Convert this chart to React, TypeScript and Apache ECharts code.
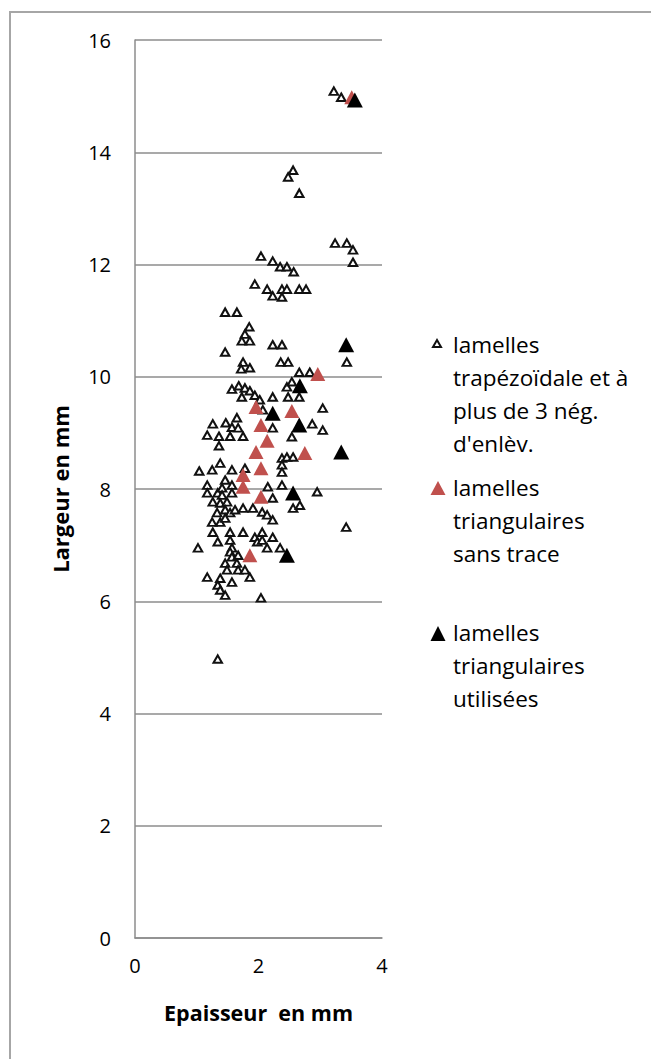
import React, { useEffect, useRef } from "react";
import * as echarts from "echarts";

// Epaisseur (mm), Largeur (mm)
const trapezoidalePts: [number, number][] = [
  [3.22, 15.09], [3.34, 14.98],
  [2.48, 13.56], [2.56, 13.68], [2.66, 13.27],
  [3.24, 12.38], [3.43, 12.38], [3.53, 12.26], [3.53, 12.04],
  [2.04, 12.15], [2.23, 12.06], [2.35, 11.96], [2.46, 11.96], [2.57, 11.87],
  [1.94, 11.65], [2.14, 11.56], [2.23, 11.44], [2.38, 11.56], [2.38, 11.42], [2.46, 11.56], [2.66, 11.56], [2.77, 11.56],
  [1.46, 11.15], [1.65, 11.15],
  [1.85, 10.89], [1.78, 10.76], [1.73, 10.64], [1.86, 10.64],
  [2.23, 10.57], [2.38, 10.57],
  [1.46, 10.44],
  [3.43, 10.26],
  [1.75, 10.26], [1.72, 10.14], [1.86, 10.16],
  [2.36, 10.26], [2.48, 10.26],
  [2.66, 10.08], [2.83, 10.08],
  [1.57, 9.78], [1.68, 9.84], [1.78, 9.8], [1.86, 9.75], [1.94, 9.67], [1.73, 9.64], [2.02, 9.59],
  [2.23, 9.64],
  [2.46, 9.82], [2.54, 9.91], [2.48, 9.64], [2.66, 9.64],
  [3.04, 9.44],
  [2.07, 9.41],
  [1.65, 9.27], [1.47, 9.18], [1.26, 9.16], [1.57, 9.1], [1.67, 9.09],
  [1.17, 8.96], [1.36, 8.94], [1.54, 8.94], [1.75, 8.94],
  [1.36, 8.77],
  [2.23, 9.09], [2.87, 9.16], [3.04, 9.05], [2.54, 8.93],
  [2.38, 8.55], [2.46, 8.57], [2.56, 8.57], [2.38, 8.43], [2.38, 8.3],
  [1.04, 8.32], [1.25, 8.34], [1.38, 8.46], [1.57, 8.34], [1.78, 8.37],
  [1.46, 8.16],
  [1.17, 8.07], [1.17, 7.93], [1.34, 7.93], [1.41, 8.02], [1.41, 7.89], [1.57, 8.07], [1.57, 7.93],
  [2.15, 8.04], [2.38, 8.07], [2.95, 7.95], [2.23, 7.84],
  [2.56, 7.66], [2.67, 7.71],
  [1.26, 7.77], [1.38, 7.75], [1.49, 7.77], [1.46, 7.63], [1.33, 7.58], [1.54, 7.58], [1.62, 7.63],
  [1.75, 7.66], [1.91, 7.66], [2.06, 7.59], [2.14, 7.54], [2.23, 7.45],
  [1.25, 7.41], [1.38, 7.41], [1.46, 7.48],
  [3.42, 7.32],
  [1.26, 7.23], [1.54, 7.23], [1.75, 7.23], [2.06, 7.23], [1.94, 7.14], [2.23, 7.14],
  [1.34, 7.06], [1.54, 7.09], [1.57, 6.95], [1.98, 7.06], [2.06, 7.09], [2.14, 6.95], [2.35, 6.95],
  [1.02, 6.95],
  [1.54, 6.88], [1.57, 6.79], [1.67, 6.82],
  [1.46, 6.68], [1.65, 6.68], [1.49, 6.56], [1.67, 6.56], [1.78, 6.56],
  [1.17, 6.43], [1.38, 6.41], [1.57, 6.34], [1.86, 6.43],
  [1.34, 6.29], [1.38, 6.2], [1.46, 6.11],
  [2.04, 6.06],
  [1.34, 4.97],
];

const sansTracePts: [number, number][] = [
  [3.51, 14.98],
  [2.96, 10.05],
  [1.96, 9.46],
  [2.54, 9.39],
  [2.04, 9.14],
  [2.14, 8.86],
  [1.96, 8.66],
  [2.75, 8.64],
  [2.04, 8.37],
  [1.75, 8.25],
  [1.75, 8.04],
  [2.04, 7.86],
  [1.86, 6.82],
];

const utiliseesPts: [number, number][] = [
  [3.56, 14.93],
  [3.42, 10.57],
  [2.67, 9.84],
  [2.23, 9.35],
  [2.66, 9.14],
  [3.34, 8.66],
  [2.56, 7.93],
  [2.46, 6.82],
];

const seriesNames = [
  "lamelles\ntrapézoïdale et à\nplus de 3 nég.\nd'enlèv.",
  "lamelles\ntriangulaires\nsans trace",
  "lamelles\ntriangulaires\nutilisées",
];

const xTicks = { min: 0, max: 4, interval: 2 };
const yTicks = { min: 0, max: 16, interval: 2 };
const xTitle = "Epaisseur  en mm";
const yTitle = "Largeur en mm";

const FONT = "Open Sans";
const RED = "#C0504D";

export default function App() {
  const ref = useRef<HTMLDivElement>(null);
  useEffect(() => {
    if (!ref.current) return;
    const chart = echarts.init(ref.current, undefined, { renderer: "svg" });
    const legendText = (t: string, y: number) => ({
      type: "text",
      left: 453,
      top: y,
      style: {
        text: t,
        font: `22.5px "${FONT}"`,
        fill: "#000",
        lineHeight: 33,
      },
    });
    chart.setOption({
      animation: false,
      backgroundColor: "#fff",
      grid: { left: 135, top: 40, right: 269, bottom: 121 },
      xAxis: {
        type: "value",
        min: xTicks.min,
        max: xTicks.max,
        interval: xTicks.interval,
        splitLine: { show: false },
        axisTick: { show: false },
        axisLine: { show: true, onZero: false, lineStyle: { color: "#8c8c8c", width: 1.5 } },
        axisLabel: { margin: 17, color: "#000", fontFamily: FONT, fontSize: 20 },
        name: xTitle,
        nameLocation: "middle",
        nameGap: 63,
        nameTextStyle: { color: "#000", fontFamily: FONT, fontSize: 21.5, fontWeight: "bold" },
      },
      yAxis: {
        type: "value",
        min: yTicks.min,
        max: yTicks.max,
        interval: yTicks.interval,
        splitLine: { show: true, lineStyle: { color: "#8c8c8c", width: 1.5 } },
        axisTick: { show: false },
        axisLine: { show: true, onZero: false, lineStyle: { color: "#8c8c8c", width: 1.5 } },
        axisLabel: { margin: 24, color: "#000", fontFamily: FONT, fontSize: 20 },
        name: yTitle,
        nameLocation: "middle",
        nameGap: 64,
        nameTextStyle: { color: "#000", fontFamily: FONT, fontSize: 22, fontWeight: "bold" },
      },
      series: [
        {
          name: seriesNames[0],
          type: "scatter",
          data: trapezoidalePts,
          symbol: "triangle",
          symbolSize: [8.5, 7.5],
          itemStyle: { color: "#fff", borderColor: "#111", borderWidth: 2, opacity: 1 },
          z: 2,
        },
        {
          name: seriesNames[1],
          type: "scatter",
          data: sansTracePts,
          symbol: "triangle",
          symbolSize: [15, 14],
          itemStyle: { color: RED, opacity: 1 },
          z: 3,
        },
        {
          name: seriesNames[2],
          type: "scatter",
          data: utiliseesPts,
          symbol: "triangle",
          symbolSize: [16, 15],
          itemStyle: { color: "#000", opacity: 1 },
          z: 4,
        },
      ],
      graphic: [
        {
          type: "rect",
          shape: { x: 10, y: 12, width: 700, height: 1100 },
          style: { fill: "none", stroke: "#a6a6a6", lineWidth: 2 },
          silent: true,
        },
        {
          type: "polygon",
          shape: { points: [[437, 340], [441, 347], [433, 347]] },
          style: { fill: "#fff", stroke: "#111", lineWidth: 2 },
        },
        {
          type: "polygon",
          shape: { points: [[438, 481], [445.5, 495], [430.5, 495]] },
          style: { fill: RED },
        },
        {
          type: "polygon",
          shape: { points: [[438, 626], [445.5, 641], [430.5, 641]] },
          style: { fill: "#000" },
        },
        legendText(seriesNames[0], 328),
        legendText(seriesNames[1], 471),
        legendText(seriesNames[2], 616),
      ],
    });
    return () => chart.dispose();
  }, []);
  return (
    <div
      ref={ref}
      style={{ position: "fixed", left: 0, top: 0, width: 651, height: 1059, background: "#fff" }}
    />
  );
}
